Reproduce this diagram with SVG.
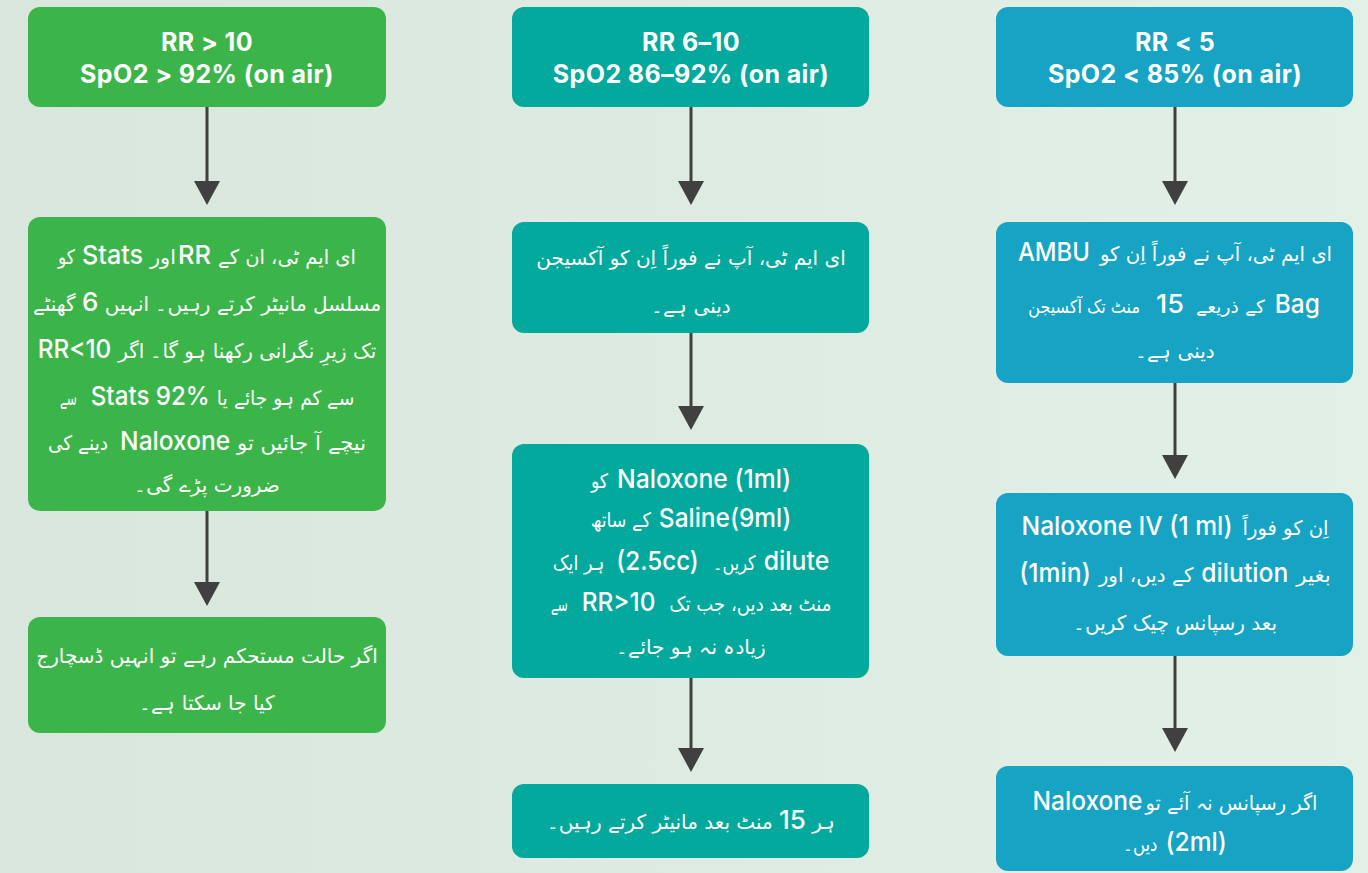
<svg xmlns="http://www.w3.org/2000/svg" width="1368" height="873" viewBox="0 0 1368 873">
<defs>
<linearGradient id="bg" x1="0" y1="0" x2="1" y2="0">
<stop offset="0" stop-color="#d9e6dd"/>
<stop offset="1" stop-color="#e3f0e6"/>
</linearGradient>
<marker id="ah" markerUnits="userSpaceOnUse" markerWidth="24" markerHeight="26" viewBox="0 0 24 26" refX="1" refY="13" orient="auto">
<path d="M0,0 L24,13 L0,26 Z" fill="#404040"/>
</marker>
<style>
.g{fill:#3bb54a}
.t{fill:#02a99c}
.b{fill:#16a3c4}
.hd{font-family:Inter,"Open Sans",sans-serif;font-weight:700;font-size:25px;letter-spacing:0.4px;fill:#fff;text-anchor:middle}
.l{font-family:Inter,"Open Sans",sans-serif;font-weight:500;font-size:26px;fill:#fff;text-anchor:middle}
.u{font-family:"DejaVu Sans",sans-serif;font-weight:400;font-size:20px;fill:#fff;text-anchor:middle}
.s{font-size:18px}
.n{font-family:Inter,"Open Sans",sans-serif;font-weight:500;font-size:26px}
.conn line{stroke:#404040;stroke-width:3;marker-end:url(#ah)}
</style>
</defs>
<rect width="1368" height="873" fill="url(#bg)"/>

<g class="conn">
<line x1="207" y1="107" x2="207" y2="182"/>
<line x1="207" y1="511" x2="207" y2="583"/>
<line x1="691" y1="107" x2="691" y2="182"/>
<line x1="691" y1="333" x2="691" y2="407"/>
<line x1="691" y1="678" x2="691" y2="749"/>
<line x1="1175" y1="107" x2="1175" y2="182"/>
<line x1="1175" y1="383" x2="1175" y2="456"/>
<line x1="1175" y1="656" x2="1175" y2="729"/>
</g>

<g id="a1">
<rect class="g" x="28" y="7" width="358" height="100" rx="12"/>
<text class="hd" x="207" y="51">RR &gt; 10</text>
<text class="hd" x="207" y="83">SpO2 &gt; 92% (on air)</text>
</g>
<g id="a2">
<rect class="g" x="28" y="217" width="358" height="294" rx="12"/>
<text class="u" x="66.5" y="264" textLength="17" lengthAdjust="spacingAndGlyphs">کو</text>
<text class="l" x="112.5" y="264" textLength="61" lengthAdjust="spacingAndGlyphs">Stats</text>
<text class="u" x="163" y="264" textLength="26" lengthAdjust="spacingAndGlyphs">اور</text>
<text class="l" x="194.5" y="264" textLength="33" lengthAdjust="spacingAndGlyphs">RR</text>
<text class="u" x="287" y="264" textLength="138" lengthAdjust="spacingAndGlyphs">ای ایم ٹی، ان کے</text>
<text class="u" x="207" y="311">مسلسل مانیٹر کرتے رہیں۔ انہیں <tspan class="n">6</tspan> گھنٹے</text>
<text class="l" x="74.5" y="358" textLength="73.5" lengthAdjust="spacingAndGlyphs">RR&lt;10</text>
<text class="u" x="247.25" y="358" textLength="258" lengthAdjust="spacingAndGlyphs">تک زیرِ نگرانی رکھنا ہو گا۔ اگر</text>
<text class="u" x="68.2" y="405" textLength="17.2" lengthAdjust="spacingAndGlyphs">سے</text>
<text class="l" x="150.3" y="405" textLength="119" lengthAdjust="spacingAndGlyphs">Stats 92%</text>
<text class="u" x="285.6" y="405" textLength="137.6" lengthAdjust="spacingAndGlyphs">سے کم ہو جائے یا</text>
<text class="u" x="78" y="450" textLength="60.2" lengthAdjust="spacingAndGlyphs">دینے کی</text>
<text class="l" x="175.1" y="450" textLength="110" lengthAdjust="spacingAndGlyphs">Naloxone</text>
<text class="u" x="301.6" y="450" textLength="129" lengthAdjust="spacingAndGlyphs">نیچے آ جائیں تو</text>
<text class="u" x="207" y="492">ضرورت پڑے گی۔</text>
</g>
<g id="a3">
<rect class="g" x="28" y="617" width="358" height="116" rx="12"/>
<text class="u" x="207" y="663">اگر حالت مستحکم رہے تو انہیں ڈسچارج</text>
<text class="u" x="207" y="710">کیا جا سکتا ہے۔</text>
</g>

<g id="b1">
<rect class="t" x="512" y="7" width="357" height="100" rx="12"/>
<text class="hd" x="691" y="51">RR 6–10</text>
<text class="hd" x="691" y="83">SpO2 86–92% (on air)</text>
</g>
<g id="b2">
<rect class="t" x="512" y="222" width="357" height="111" rx="12"/>
<text class="u" x="691" y="265">ای ایم ٹی، آپ نے فوراً اِن کو آکسیجن</text>
<text class="u" x="691" y="313">دینی ہے۔</text>
</g>
<g id="b3">
<rect class="t" x="512" y="444" width="357" height="234" rx="12"/>
<text class="u" x="599.5" y="488" textLength="17.2" lengthAdjust="spacingAndGlyphs">کو</text>
<text class="l" x="704.1" y="488" textLength="174" lengthAdjust="spacingAndGlyphs">Naloxone (1ml)</text>
<text class="u" x="620.75" y="527" textLength="60.2" lengthAdjust="spacingAndGlyphs">کے ساتھ</text>
<text class="l" x="725.1" y="527" textLength="132.5" lengthAdjust="spacingAndGlyphs">Saline(9ml)</text>
<text class="u" x="578.5" y="570" textLength="51.6" lengthAdjust="spacingAndGlyphs">ہر ایک</text>
<text class="l" x="657.55" y="570" textLength="82.5" lengthAdjust="spacingAndGlyphs">(2.5cc)</text>
<text class="u" x="734.3" y="570" textLength="43" lengthAdjust="spacingAndGlyphs">کریں۔</text>
<text class="l" x="796.55" y="570" textLength="65.5" lengthAdjust="spacingAndGlyphs">dilute</text>
<text class="u" x="559.25" y="611" textLength="17.2" lengthAdjust="spacingAndGlyphs">سے</text>
<text class="l" x="618.6" y="611" textLength="73.5" lengthAdjust="spacingAndGlyphs">RR&gt;10</text>
<text class="u" x="750.35" y="611" textLength="162" lengthAdjust="spacingAndGlyphs">منٹ بعد دیں، جب تک</text>
<text class="u" x="691" y="654">زیادہ نہ ہو جائے۔</text>
</g>
<g id="b4">
<rect class="t" x="512" y="784" width="357" height="74" rx="12"/>
<text class="u" x="691" y="829">ہر <tspan class="n">15</tspan> منٹ بعد مانیٹر کرتے رہیں۔</text>
</g>

<g id="c1">
<rect class="b" x="996" y="7" width="357" height="100" rx="12"/>
<text class="hd" x="1175" y="51">RR &lt; 5</text>
<text class="hd" x="1175" y="83">SpO2 &lt; 85% (on air)</text>
</g>
<g id="c2">
<rect class="b" x="996" y="222" width="357" height="161" rx="12"/>
<text class="l" x="1053.9" y="261" textLength="72" lengthAdjust="spacingAndGlyphs">AMBU</text>
<text class="u" x="1216" y="261" textLength="232.2" lengthAdjust="spacingAndGlyphs">ای ایم ٹی، آپ نے فوراً اِن کو</text>
<text class="u s" x="1084.1" y="313" textLength="111.8" lengthAdjust="spacingAndGlyphs">منٹ تک آکسیجن</text>
<text class="l" x="1170" y="313" textLength="28" lengthAdjust="spacingAndGlyphs">15</text>
<text class="u s" x="1230.4" y="313" textLength="68.8" lengthAdjust="spacingAndGlyphs">کے ذریعے</text>
<text class="l" x="1297.3" y="313" textLength="45" lengthAdjust="spacingAndGlyphs">Bag</text>
<text class="u" x="1175" y="358">دینی ہے۔</text>
</g>
<g id="c3">
<rect class="b" x="996" y="493" width="357" height="163" rx="12"/>
<text class="l" x="1127" y="535" textLength="211" lengthAdjust="spacingAndGlyphs">Naloxone IV (1 ml)</text>
<text class="u" x="1285.5" y="535" textLength="86" lengthAdjust="spacingAndGlyphs">اِن کو فوراً</text>
<text class="l" x="1055" y="582" textLength="71.5" lengthAdjust="spacingAndGlyphs">(1min)</text>
<text class="u" x="1146.05" y="582" textLength="94.6" lengthAdjust="spacingAndGlyphs">کے دیں، اور</text>
<text class="l" x="1244.85" y="582" textLength="87" lengthAdjust="spacingAndGlyphs">dilution</text>
<text class="u" x="1313.55" y="582" textLength="34.4" lengthAdjust="spacingAndGlyphs">بغیر</text>
<text class="u" x="1175" y="630">بعد رسپانس چیک کریں۔</text>
</g>
<g id="c4">
<rect class="b" x="996" y="766" width="357" height="105" rx="12"/>
<text class="l" x="1087.5" y="810" textLength="110" lengthAdjust="spacingAndGlyphs">Naloxone</text>
<text class="u" x="1231.5" y="810" textLength="172" lengthAdjust="spacingAndGlyphs">اگر رسپانس نہ آئے تو</text>
<text class="u" x="1140.25" y="851" textLength="34.4" lengthAdjust="spacingAndGlyphs">دیں۔</text>
<text class="l" x="1196.2" y="851" textLength="61.5" lengthAdjust="spacingAndGlyphs">(2ml)</text>
</g>
</svg>
